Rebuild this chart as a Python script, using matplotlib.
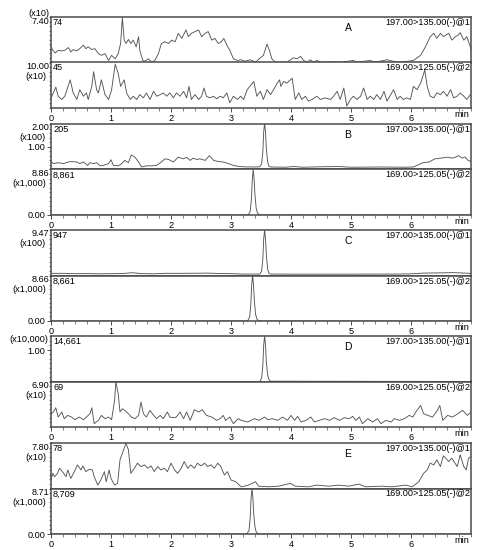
import matplotlib
matplotlib.use("Agg")
import matplotlib.pyplot as plt
from matplotlib.ticker import MultipleLocator, FixedLocator

plt.rcParams['font.family'] = ['Liberation Sans', 'DejaVu Sans']
plt.rcParams['font.size'] = 6.6

# ---------------- data (time in min, intensity in panel axis units) ----------------
a1 = [(0, 2.54), (.03, 1.99), (.07, 1.55), (.12, 1.99), (.18, 1.88), (.23, 1.99), (.29, 2.43), (.33, 1.71),
      (.37, 2.10), (.43, 1.88), (.48, 2.26), (.54, 2.82), (.58, 2.26), (.62, 2.54), (.68, 2.10), (.73, 2.26),
      (.79, 1.44), (.84, 1.16), (.90, 1.44), (.96, 0.33), (1.01, 1.16), (1.07, 0.61), (1.12, 1.44), (1.16, 3.09),
      (1.19, 7.30), (1.22, 3.64), (1.25, 3.09), (1.29, 3.75), (1.33, 3.09), (1.37, 3.64), (1.42, 2.54), (1.46, 4.20),
      (1.48, 1.99), (1.53, 0.33), (1.57, 0.22), (1.62, 0.61), (1.68, 0.06), (1.73, 0.33), (1.79, 1.44), (1.84, 3.09),
      (1.90, 3.37), (1.96, 3.09), (2.01, 3.64), (2.07, 3.37), (2.12, 4.75), (2.18, 3.92), (2.25, 5.30), (2.29, 4.20),
      (2.34, 4.75), (2.40, 5.02), (2.46, 5.30), (2.51, 4.20), (2.57, 4.75), (2.62, 5.02), (2.68, 3.64), (2.73, 3.92),
      (2.79, 3.09), (2.84, 3.37), (2.88, 3.92), (2.93, 2.82), (2.98, 1.99), (3.04, 0.61), (3.11, 0.33),
      (3.16, 0.44), (3.24, 0.22), (3.32, 0.44), (3.41, 0.06), (3.49, 0.77), (3.54, 1.16), (3.60, 2.98), (3.64, 1.99),
      (3.68, 0.61), (3.74, 0.06), (3.82, 0.06), (3.93, 0.06), (3.99, 0.44), (4.04, 0.77), (4.10, 0.61), (4.16, 0.99),
      (4.21, 0.33), (4.27, 0.06), (4.32, 0.44), (4.38, 0.06), (4.43, 0.33), (4.49, 0.06), (4.70, 0.10), (4.85, 0.06),
      (5.04, 0.33), (5.10, 0.06), (5.32, 0.33), (5.40, 0.06), (5.60, 0.44), (5.77, 0.06), (5.93, 0.17), (6.04, 0.33),
      (6.16, 1.16), (6.24, 2.54), (6.32, 4.20), (6.38, 4.75), (6.43, 3.92), (6.49, 4.75), (6.54, 4.20), (6.63, 4.75),
      (6.68, 3.64), (6.74, 4.20), (6.79, 4.47), (6.82, 4.86), (6.88, 3.64), (6.93, 4.20), (6.99, 2.54), (7.0, 1.99)]

a2 = [(0, 2.23), (.04, 3.31), (.08, 4.60), (.12, 2.59), (.18, 1.87), (.23, 2.59), (.32, 6.19), (.37, 3.31),
      (.43, 1.87), (.48, 4.03), (.54, 2.59), (.59, 3.31), (.62, 1.87), (.68, 4.75), (.71, 7.99), (.76, 4.03),
      (.79, 3.31), (.84, 6.19), (.90, 2.95), (.96, 1.87), (1.01, 4.03), (1.07, 9.60), (1.12, 7.63), (1.16, 4.75),
      (1.22, 6.19), (1.26, 3.31), (1.32, 1.87), (1.37, 2.59), (1.43, 1.87), (1.48, 2.95), (1.54, 2.23), (1.59, 3.31),
      (1.65, 1.87), (1.71, 3.67), (1.76, 2.59), (1.82, 2.95), (1.87, 3.31), (1.93, 2.59), (1.98, 3.31), (2.04, 2.23),
      (2.09, 3.31), (2.15, 2.59), (2.21, 3.67), (2.26, 2.23), (2.30, 4.75), (2.34, 1.87), (2.40, 2.95), (2.46, 1.87),
      (2.51, 2.59), (2.55, 4.39), (2.59, 2.59), (2.65, 2.23), (2.71, 2.59), (2.76, 2.02), (2.82, 2.59), (2.87, 2.23),
      (2.93, 3.31), (2.98, 1.15), (3.04, 2.59), (3.11, 1.87),
      (3.16, 2.59), (3.21, 1.87), (3.27, 4.03), (3.38, 5.83), (3.43, 2.59), (3.49, 3.67), (3.54, 1.87), (3.60, 4.03),
      (3.66, 2.95), (3.71, 4.03), (3.77, 5.47), (3.81, 6.19), (3.83, 4.75), (3.88, 5.83), (3.93, 5.47), (4.02, 6.55),
      (4.07, 1.87), (4.13, 3.31), (4.18, 1.87), (4.24, 2.59), (4.29, 1.51), (4.35, 1.87), (4.43, 2.59), (4.49, 1.87),
      (4.57, 2.23), (4.66, 1.87), (4.71, 2.59), (4.77, 3.67), (4.82, 1.87), (4.88, 4.39), (4.93, 0.43), (4.99, 1.87),
      (5.04, 2.59), (5.10, 1.87), (5.16, 2.59), (5.21, 4.39), (5.27, 1.87), (5.32, 2.59), (5.38, 1.87), (5.43, 2.95),
      (5.49, 1.87), (5.55, 3.67), (5.60, 1.51), (5.71, 4.03), (5.77, 1.87), (5.82, 2.59), (5.87, 1.87), (5.93, 2.23),
      (5.99, 1.87), (6.04, 4.75), (6.10, 4.03), (6.16, 5.47), (6.23, 8.35), (6.27, 4.75), (6.32, 2.59), (6.38, 2.23),
      (6.43, 3.31), (6.49, 2.95), (6.54, 3.67), (6.60, 2.59), (6.66, 4.03), (6.71, 2.23), (6.77, 2.59), (6.82, 3.31),
      (6.88, 2.59), (6.93, 1.87), (6.99, 2.95), (7.0, 2.8)]

b1 = [(0, .35), (.04, .26), (.12, .30), (.21, .26), (.29, .33), (.34, .35), (.43, .33), (.48, .26), (.54, .33),
      (.61, .18), (.65, .30), (.71, .26), (.76, .30), (.82, .16), (.87, .18), (.96, .26), (1.0, .43), (1.04, .18),
      (1.12, .16), (1.18, .26), (1.23, .40), (1.29, .30), (1.34, .64), (1.40, .54), (1.46, .33), (1.51, .11),
      (1.59, .16), (1.68, .16), (1.76, .18), (1.84, .33), (1.90, .47), (1.96, .44), (2.04, .33), (2.12, .54),
      (2.21, .47), (2.26, .54), (2.32, .40), (2.37, .50), (2.43, .44), (2.48, .47), (2.57, .40), (2.64, .61),
      (2.71, .40), (2.79, .35), (2.87, .33), (2.96, .26), (3.04, .18), (3.12, .14), (3.20, .12), (3.40, .11),
      (3.48, .12), (3.51, .25), (3.53, .75), (3.545, 1.65), (3.56, 2.05), (3.575, 1.65), (3.59, .90), (3.61, .35),
      (3.63, .15), (3.66, .11), (3.90, .10), (4.05, .13), (4.20, .10), (4.50, .12), (4.80, .13), (5.00, .10),
      (5.50, .11), (5.90, .10), (6.04, .11), (6.10, .18), (6.20, .30), (6.30, .33), (6.40, .47), (6.50, .50),
      (6.60, .54), (6.70, .50), (6.80, .61), (6.85, .50), (6.90, .55), (6.95, .40), (7.0, .35)]

b2 = [(0, 0), (3.26, 0), (3.29, .10), (3.32, .70), (3.34, 3.1), (3.355, 7.0), (3.37, 8.861), (3.385, 7.0),
      (3.40, 3.8), (3.42, 1.3), (3.44, .40), (3.47, .08), (3.50, 0), (7.0, 0)]

c1 = [(0, .45), (.2, .45), (.4, .38), (.6, .40), (.8, .35), (1.0, .38), (1.2, .42), (1.35, .58), (1.5, .40),
      (1.7, .35), (1.9, .45), (2.2, .45), (2.5, .48), (2.6, .50), (2.8, .42), (3.0, .38), (3.2, .30), (3.45, .30),
      (3.48, .30), (3.51, .90), (3.53, 3.3), (3.545, 7.6), (3.56, 9.47), (3.575, 7.6), (3.59, 4.0), (3.61, 1.4),
      (3.63, .50), (3.66, .30), (4.0, .28), (5.0, .28), (5.8, .30), (6.0, .35), (6.2, .50), (6.5, .55), (6.7, .60),
      (6.9, .50), (7.0, .45)]

c2 = [(0, 0), (3.25, 0), (3.28, .10), (3.31, .70), (3.33, 3.0), (3.345, 6.9), (3.36, 8.661), (3.375, 6.9),
      (3.39, 3.7), (3.41, 1.3), (3.43, .40), (3.46, .08), (3.49, 0), (7.0, 0)]

d1 = [(0, 0), (3.48, 0), (3.51, .11), (3.53, .50), (3.545, 1.17), (3.56, 1.4661), (3.575, 1.17), (3.59, .60),
      (3.61, .22), (3.63, .07), (3.66, .01), (7.0, 0)]

d2 = [(0, 2.01), (.04, 2.27), (.08, 2.92), (.12, 1.51), (.18, 2.27), (.22, 1.26), (.28, 1.76), (.34, 1.51),
      (.40, 1.11), (.47, 1.51), (.54, 1.11), (.59, 1.51), (.65, 2.01), (.68, 2.92), (.72, 0.50), (.79, 1.01),
      (.84, 1.76), (.90, 1.26), (.96, 1.51), (1.01, 1.11), (1.06, 4.03), (1.08, 6.85), (1.12, 5.04), (1.15, 2.27),
      (1.19, 2.77), (1.23, 2.52), (1.29, 2.01), (1.34, 1.51), (1.40, 1.26), (1.46, 1.76), (1.50, 3.78), (1.54, 2.01),
      (1.59, 1.51), (1.65, 2.52), (1.71, 1.76), (1.76, 1.26), (1.82, 1.76), (1.87, 1.26), (1.94, 2.27), (1.98, 1.51),
      (2.04, 1.41), (2.09, 1.51), (2.15, 2.27), (2.21, 1.26), (2.26, 2.27), (2.32, 1.01), (2.39, 2.62), (2.46, 2.27),
      (2.52, 2.62), (2.59, 1.76), (2.68, 1.51), (2.76, 1.01), (2.82, 1.26), (2.87, 1.76), (2.91, 1.01), (2.98, 1.51),
      (3.04, 0.50), (3.12, 1.26),
      (3.17, 1.01), (3.28, 0.76), (3.39, 1.26), (3.47, 1.01), (3.56, 1.51), (3.61, 1.11), (3.69, 1.26), (3.78, 1.01),
      (3.86, 1.51), (3.94, 1.01), (4.0, 1.76), (4.06, 1.01), (4.11, 1.61), (4.17, 0.76), (4.25, 1.01), (4.33, 1.51),
      (4.39, 0.76), (4.47, 1.01), (4.56, 1.26), (4.64, 1.01), (4.72, 1.41), (4.81, 1.01), (4.89, 1.41), (4.97, 1.26),
      (5.03, 1.61), (5.08, 1.01), (5.14, 1.51), (5.19, 0.50), (5.28, 1.26), (5.36, 0.76), (5.44, 1.26), (5.50, 0.50),
      (5.58, 1.01), (5.67, 0.76), (5.72, 1.26), (5.81, 1.01), (5.89, 1.26), (5.97, 1.76), (6.03, 1.51), (6.08, 2.27),
      (6.16, 3.27), (6.21, 2.01), (6.28, 1.76), (6.36, 1.51), (6.44, 2.52), (6.48, 3.27), (6.53, 1.01), (6.61, 1.76),
      (6.69, 1.51), (6.78, 2.01), (6.86, 2.52), (6.94, 1.76), (7.0, 2.27)]

e1 = [(0, 1.45), (.03, 2.60), (.06, 2.02), (.11, 2.60), (.14, 3.47), (.19, 2.89), (.25, 2.02), (.28, 3.18),
      (.33, 1.73), (.39, 2.89), (.44, 4.05), (.50, 3.18), (.53, 3.87), (.58, 2.89), (.64, 3.29), (.69, 3.18),
      (.72, 2.02), (.78, 0.58), (.83, 1.45), (.89, 2.89), (.92, 1.16), (.97, 3.18), (1.0, 1.73), (1.06, 0.58),
      (1.11, 0.87), (1.15, 4.91), (1.19, 6.07), (1.25, 7.75), (1.29, 6.65), (1.33, 2.60), (1.39, 3.47), (1.44, 4.34),
      (1.50, 3.76), (1.56, 4.05), (1.61, 3.47), (1.67, 3.87), (1.72, 2.89), (1.78, 3.76), (1.83, 3.18), (1.89, 3.47),
      (1.94, 2.89), (2.0, 4.34), (2.06, 3.18), (2.11, 2.60), (2.17, 3.47), (2.22, 4.62), (2.28, 3.47), (2.33, 4.05),
      (2.39, 3.47), (2.44, 4.34), (2.50, 3.87), (2.56, 4.34), (2.61, 3.76), (2.67, 4.05), (2.72, 3.47), (2.78, 4.34),
      (2.83, 3.76), (2.89, 2.31), (2.94, 2.89), (3.0, 1.45), (3.08, 1.16), (3.17, 0.29),
      (3.18, 0.29), (3.29, 0.58), (3.41, 1.16), (3.46, 0.40), (3.63, 0.29), (3.79, 0.40), (3.99, 0.87), (4.07, 0.40),
      (4.29, 0.29), (4.43, 0.58), (4.63, 0.40), (4.79, 0.58), (4.96, 0.40), (5.13, 0.75), (5.24, 0.29), (5.52, 0.40),
      (5.68, 0.29), (5.91, 0.58), (6.02, 0.29), (6.13, 1.16), (6.21, 2.60), (6.27, 3.18), (6.32, 4.34), (6.38, 4.05),
      (6.43, 4.91), (6.49, 3.76), (6.54, 5.61), (6.63, 4.62), (6.68, 5.20), (6.77, 3.76), (6.82, 5.78), (6.88, 3.76),
      (6.92, 3.18), (6.96, 5.20), (7.0, 5.49)]

e2 = [(0, 0), (3.24, 0), (3.27, .10), (3.30, .70), (3.32, 3.0), (3.335, 6.9), (3.35, 8.709), (3.365, 6.9),
      (3.38, 3.7), (3.40, 1.3), (3.42, .40), (3.45, .08), (3.48, 0), (7.0, 0)]

# panel descriptors
y_max = [7.40, 10.00, 2.00, 8.86, 9.47, 8.66, 1.4661, 6.90, 7.80, 8.71]
top_labels = ['7.40', '10.00', '2.00', '8.86', '9.47', '8.66', None, '6.90', '7.80', '8.71']
multipliers = ['(x10)', '(x10)', '(x100)', '(x1,000)', '(x100)', '(x1,000)', '(x10,000)', '(x10)', '(x10)', '(x1,000)']
mid_ticks = [None, None, 1.00, None, None, None, 1.00, None, None, None]
zero_ticks = [False, False, False, True, False, True, False, False, False, True]
max_counts = ['74', '45', '205', '8,861', '947', '8,661', '14,661', '69', '78', '8,709']
transitions = ['197.00>135.00(-)@1', '169.00>125.05(-)@2'] * 5
letters = ['A', 'B', 'C', 'D', 'E']
traces = [a1, a2, b1, b2, c1, c2, d1, d2, e1, e2]
x_ticks = [0, 1, 2, 3, 4, 5, 6]

# ---------------- layout ----------------
W, H = 478, 550
fig = plt.figure(figsize=(W / 100, H / 100), dpi=100)
LEFT, RIGHT = 51, 471
PH = 45.5
group_tops = [17, 124, 230, 336, 443]
LINE = '#555555'
FRAME = '#4a4a4a'
AXW = RIGHT - LEFT

for i, tr in enumerate(traces):
    g, lower = divmod(i, 2)
    top_px = group_tops[g] + lower * PH
    ax = fig.add_axes([LEFT / W, 1 - (top_px + PH) / H, AXW / W, PH / H])
    t = [p[0] for p in tr]
    v = [p[1] for p in tr]
    ax.plot(t, v, color=LINE, lw=0.65, solid_joinstyle='round')
    ax.set_xlim(0, 7.0)
    ax.set_ylim(0, y_max[i])
    for s in ax.spines.values():
        s.set_color(FRAME)
        s.set_linewidth(1.1)
    # y ticks
    yt = []
    if mid_ticks[i] is not None:
        yt.append(mid_ticks[i])
    if zero_ticks[i]:
        yt.append(0.0)
    ax.yaxis.set_major_locator(FixedLocator(yt))
    ax.set_yticklabels(['%.2f' % y for y in yt])
    ax.yaxis.set_minor_locator(MultipleLocator(y_max[i] / 10))
    ax.tick_params(axis='y', which='major', direction='out', length=3, width=0.7,
                   color=FRAME, pad=1, labelsize=6.6)
    ax.tick_params(axis='y', which='minor', direction='out', length=1.5, width=0.5, color=FRAME)
    # x ticks
    if lower:
        ax.xaxis.set_major_locator(FixedLocator(x_ticks))
        ax.xaxis.set_minor_locator(MultipleLocator(0.2))
        ax.set_xticklabels([str(x) for x in x_ticks])
        ax.tick_params(axis='x', which='major', direction='out', length=3, width=0.7,
                       color=FRAME, pad=1.2, labelsize=6.6)
        ax.tick_params(axis='x', which='minor', direction='out', length=2, width=0.5, color=FRAME)
        ax.text(6.85, -6.5 / PH, 'min', transform=ax.get_xaxis_transform(),
                ha='center', va='center', fontsize=6.6)
    else:
        ax.set_xticks([])
    # labels on the left
    if top_labels[i] is not None:
        ax.text(-2 / AXW, 1 - 4 / PH, top_labels[i], transform=ax.transAxes,
                ha='right', va='center')
        if i == 0:
            ax.text(-2 / AXW, 1 + 4 / PH, multipliers[i], transform=ax.transAxes,
                    ha='right', va='center')
        else:
            ax.text(-5 / AXW, 1 - 14 / PH, multipliers[i], transform=ax.transAxes,
                    ha='right', va='center')
    else:
        ax.text(-3 / AXW, 1 - 3.5 / PH, multipliers[i], transform=ax.transAxes,
                ha='right', va='center')
    # labels inside
    ax.text(2 / AXW, 1 - 5.5 / PH, max_counts[i], transform=ax.transAxes, ha='left', va='center')
    ax.text(1 - 1 / AXW, 1 - 5.5 / PH, transitions[i], transform=ax.transAxes, ha='right', va='center')
    if not lower:
        ax.text(4.95, 1 - 11 / PH, letters[g], transform=ax.get_xaxis_transform(),
                ha='center', va='center', fontsize=7.5)

fig.savefig('out.png', dpi=100)
